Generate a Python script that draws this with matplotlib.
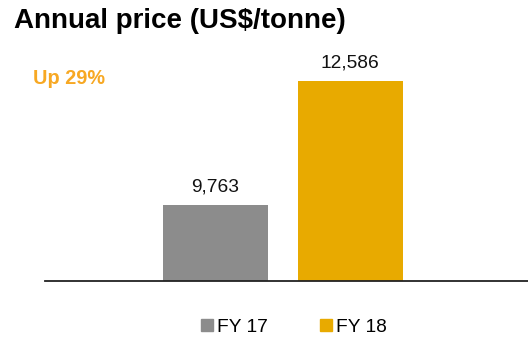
import matplotlib.pyplot as plt
from matplotlib.lines import Line2D

plt.rcParams['font.family'] = ['Liberation Sans', 'DejaVu Sans']

# data
categories = ['FY 17', 'FY 18']
prices = [9763, 12586]
value_labels = ['9,763', '12,586']
colors = ['#8C8C8C', '#E8AA00']
title = 'Annual price (US$/tonne)'
change_note = 'Up 29%'

fig = plt.figure(figsize=(5.28, 3.46), dpi=100)
ax = fig.add_axes([45 / 528, 1 - 281 / 346, 1 - 45 / 528, 241 / 346])

x = list(range(len(categories)))
ax.bar(x, prices, width=0.78, color=colors, zorder=2)

for xi, v, lab in zip(x, prices, value_labels):
    ax.annotate(lab, (xi, v), xytext=(0, 7), textcoords='offset points',
                ha='center', va='bottom', fontsize=13.8, color='#111111')

ax.set_ylim(8040, 13517)
ax.set_xlim(-1.268, 2.323)

for s in ['top', 'right', 'left']:
    ax.spines[s].set_visible(False)
ax.spines['bottom'].set_color('#222222')
ax.spines['bottom'].set_linewidth(1.3)
ax.set_xticks([])
ax.set_yticks([])

fig.text(14 / 528, 1 - 21 / 346, title, fontsize=20, fontweight='bold',
         ha='left', va='center', color='#000000')
fig.text(33 / 528, 1 - 78 / 346, change_note, fontsize=14.3, fontweight='bold',
         ha='left', va='center', color='#F7A823')

handles = [Line2D([], [], marker='s', linestyle='none', color=c, markersize=8.5)
           for c in colors]
fig.legend(handles, categories, loc='center', bbox_to_anchor=(0.553, 0.054),
           ncol=2, frameon=False, fontsize=13.8, handletextpad=0.05,
           columnspacing=2.5, handlelength=1.0)

fig.savefig('out.png', dpi=100)
